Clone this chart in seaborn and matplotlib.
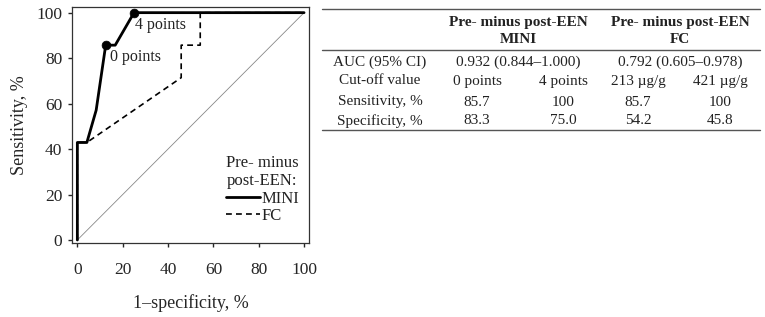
import numpy as np
import pandas as pd
import seaborn as sns
from matplotlib import pyplot as plt
from matplotlib.lines import Line2D

# ROC curves (1-specificity %, sensitivity %)
mini_x = [0, 0, 4.2, 8.3, 12.5, 16.7, 25.0, 100]
mini_y = [0, 42.9, 42.9, 57.1, 85.7, 85.7, 100, 100]
fc_x = [0, 0, 4.2, 45.8, 45.8, 54.2, 54.2, 100]
fc_y = [0, 42.9, 42.9, 71.4, 85.7, 85.7, 100, 100]
cut_x = [12.5, 25.0]
cut_y = [85.7, 100]
cut_labels = ["0 points", "4 points"]

# table content
row_labels = ["AUC (95% CI)", "Cut-off value", "Sensitivity, %", "Specificity, %"]
headers = ["Pre- minus post-EEN\nMINI", "Pre- minus post-EEN\nFC"]
auc_text = ["0.932 (0.844\u20131.000)", "0.792 (0.605\u20130.978)"]
cutoffs = ["0 points", "4 points", "213 \u00b5g/g", "421 \u00b5g/g"]
sensitivity = ["85.7", "100", "85.7", "100"]
specificity = ["83.3", "75.0", "54.2", "45.8"]

sns.set_style("ticks")
plt.rcParams["font.family"] = ["Liberation Serif", "DejaVu Serif"]
plt.rcParams["text.color"] = "#222222"

fig = plt.figure(figsize=(7.65, 3.17), dpi=100)
ax = fig.add_axes([0.094, 0.235, 0.310, 0.743])

roc = pd.concat(
    [
        pd.DataFrame({"x": mini_x, "y": mini_y, "test": "MINI"}),
        pd.DataFrame({"x": fc_x, "y": fc_y, "test": "FC"}),
    ]
)

ax.plot([0, 100], [0, 100], color="#888888", lw=0.6)
sns.lineplot(
    data=roc[roc.test == "FC"], x="x", y="y", sort=False, estimator=None,
    color="black", lw=1.2, linestyle=(0, (3.5, 2.5)), label="FC", ax=ax,
)
sns.lineplot(
    data=roc[roc.test == "MINI"], x="x", y="y", sort=False, estimator=None,
    color="black", lw=2.0, label="MINI", ax=ax,
)
sns.scatterplot(x=cut_x, y=cut_y, color="black", s=40, edgecolor="black", zorder=5, ax=ax)
ax.text(cut_x[0] + 2.0, cut_y[0] - 5.0, cut_labels[0], fontsize=11.5, va="center")
ax.text(cut_x[1] + 0.6, cut_y[1] - 5.5, cut_labels[1], fontsize=11.5, va="center")

ax.set_xlim(-2.4, 102.2)
ax.set_ylim(-1.1, 102.5)
ax.set_xticks(range(0, 101, 20))
ax.set_yticks(range(0, 101, 20))
ax.tick_params(labelsize=12.5, length=3, width=1, direction="out")
ax.tick_params(axis="x", pad=11)
ax.tick_params(axis="y", pad=4)
ax.set_xlabel("1\u2013specificity, %", fontsize=13, labelpad=12)
ax.set_ylabel("Sensitivity, %", fontsize=13, labelpad=6)
for sp in ax.spines.values():
    sp.set_linewidth(0.9)
    sp.set_color("#333333")

handles, labels = ax.get_legend_handles_labels()
order = [labels.index("MINI"), labels.index("FC")]
ax.legend(
    [handles[i] for i in order], [labels[i] for i in order],
    title="Pre- minus\npost-EEN:", loc="lower right", frameon=False,
    fontsize=12, title_fontsize=12, alignment="left",
    handlelength=2.0, handletextpad=0.1, borderaxespad=0.2, labelspacing=0.1,
    bbox_to_anchor=(1.0, 0.035),
)

# table drawn in pixel coordinates
tab = fig.add_axes([0, 0, 1, 1], zorder=-1)
tab.set_xlim(0, 765)
tab.set_ylim(317, 0)
tab.axis("off")

col_x = [477, 563, 638, 720]
head_x = [518, 680]
label_x = 380
fs = 11
for y in [9, 50, 130]:
    tab.add_line(Line2D([322, 760], [y, y], color="#555555", lw=1.0))
for hx, h in zip(head_x, headers):
    tab.text(hx, 31, h, ha="center", va="center", fontsize=fs, fontweight="bold",
             linespacing=1.45)
rows_y = [62, 81, 102, 121]
for ry, lab in zip(rows_y, row_labels):
    tab.text(label_x, ry, lab, ha="center", va="center", fontsize=fs)
for hx, a in zip(head_x, auc_text):
    tab.text(hx, rows_y[0], a, ha="center", va="center", fontsize=fs)
for vals, ry in zip([cutoffs, sensitivity, specificity], rows_y[1:]):
    for cx, v in zip(col_x, vals):
        tab.text(cx, ry, v, ha="center", va="center", fontsize=fs)

fig.savefig("out.png", dpi=100)
